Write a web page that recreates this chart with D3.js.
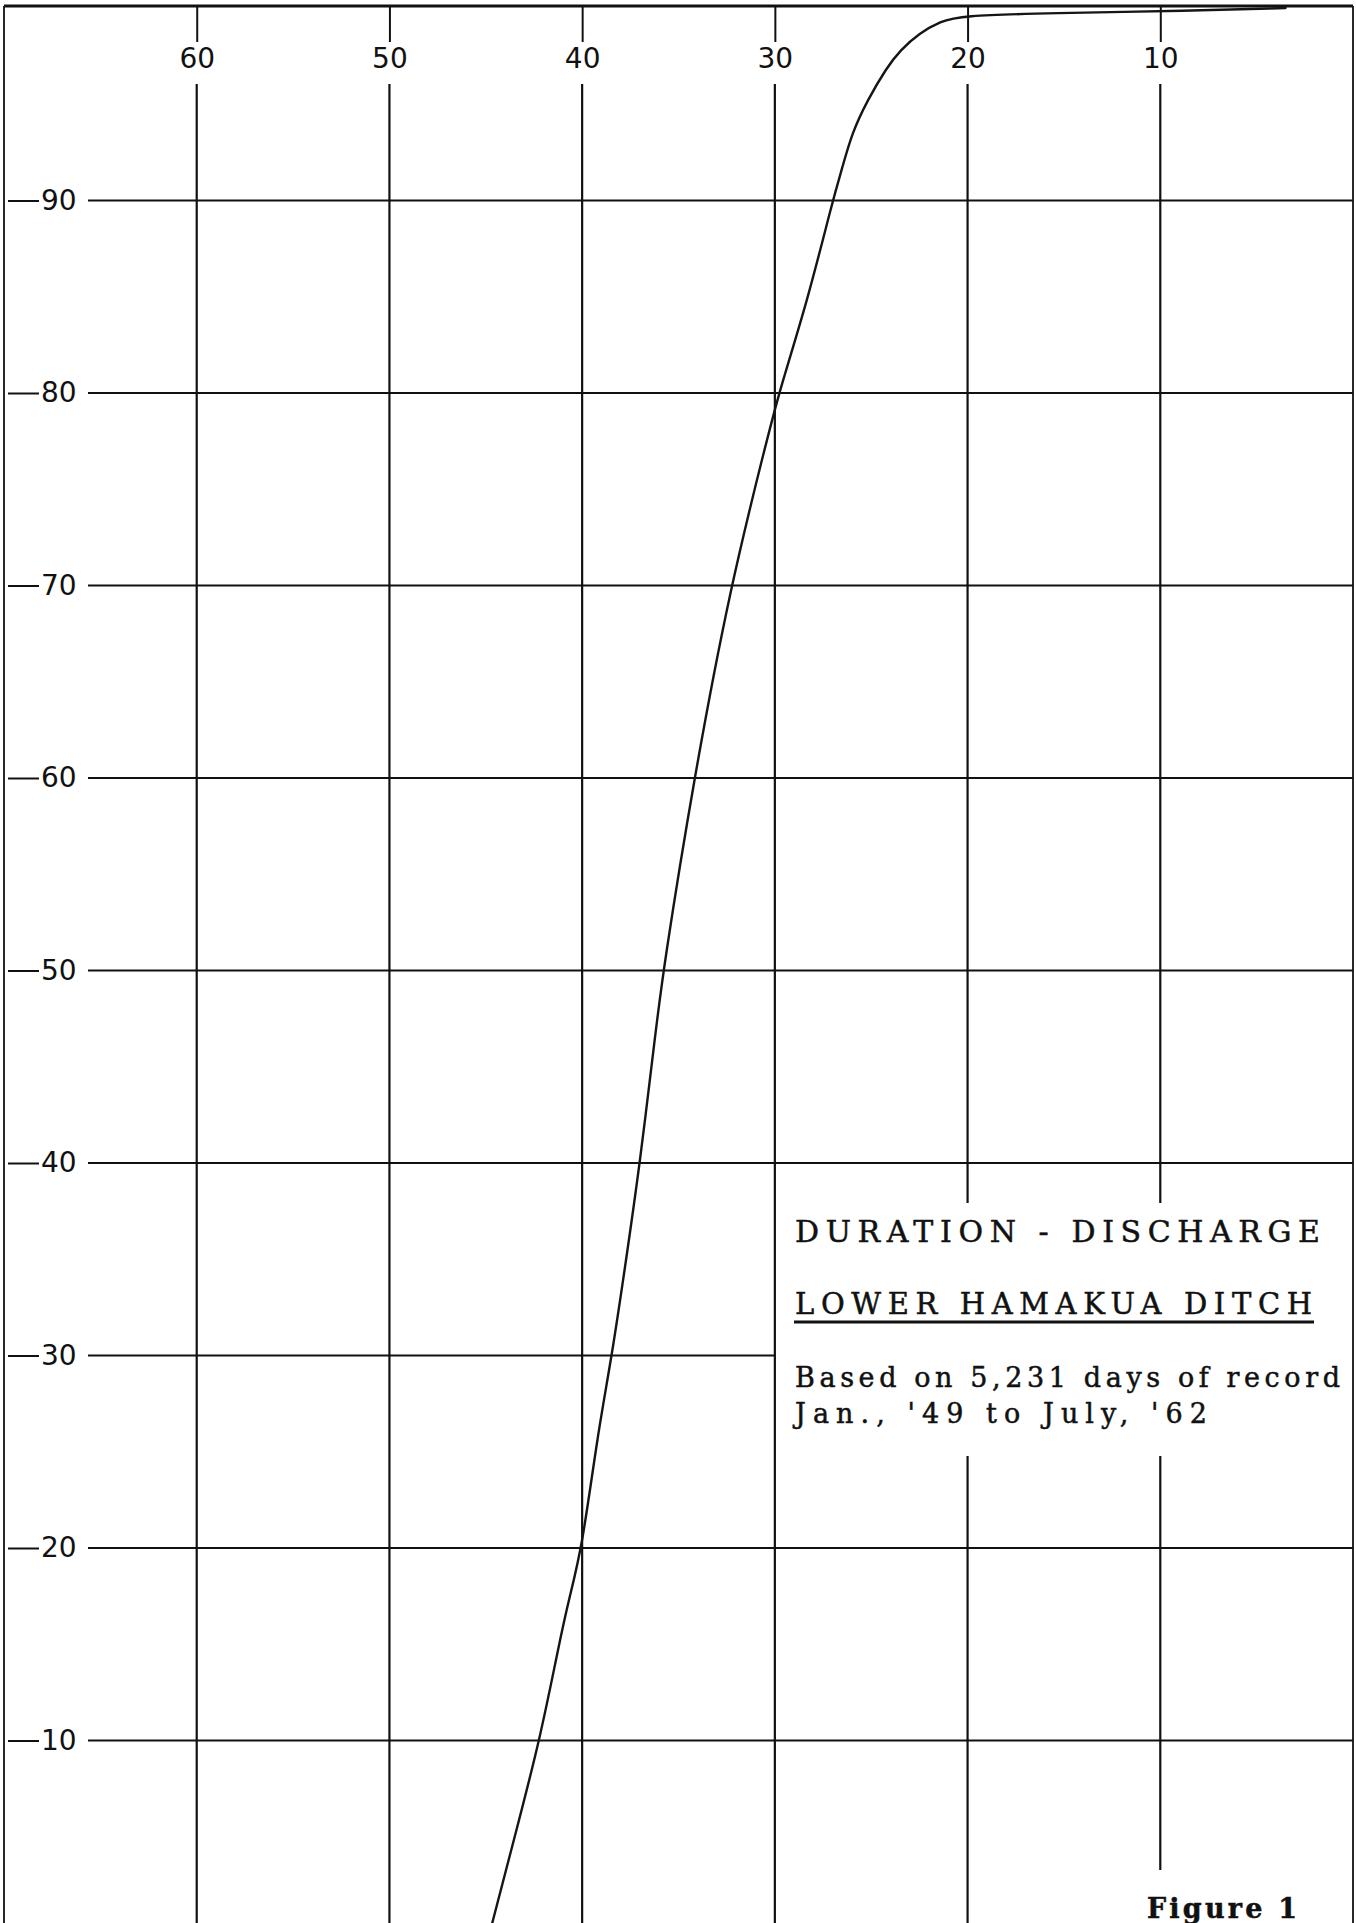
<!DOCTYPE html>
<html>
<head>
<meta charset="utf-8">
<script src="https://cdn.jsdelivr.net/npm/d3@7"></script>
<style>
html, body { margin: 0; padding: 0; background: #fff; }
svg { display: block; }
.tick text { font-family: "DejaVu Sans", sans-serif; font-size: 28px; fill: #111; }
.tick line { stroke: #111; stroke-width: 2; }
.grid { stroke: #111; stroke-width: 2.2; fill: none; }
.note { font-family: "DejaVu Serif", serif; fill: #111; stroke: #111; stroke-width: 0.5; }
</style>
</head>
<body>
<svg id="chart"></svg>
<script>
// tick labels
const xTicks = [60, 50, 40, 30, 20, 10];
const yTicks = [90, 80, 70, 60, 50, 40, 30, 20, 10];

// duration curve (discharge vs percent of time)
const discharge = [44.8, 43.5, 42.2, 41.2, 40.7, 40.0, 39.2, 38.45, 37.7, 37.0, 36.2, 35.8, 34.2, 32.3, 30.5, 29.8, 28.3, 27.0, 26.5, 26.0, 25.2, 24.2, 23.5, 22.5, 21.4, 20.4, 15.7, 8.5, 3.5];
const percentTime = [0, 5, 10, 15, 17.3, 20, 25.9, 30, 35.1, 40, 46.7, 50, 60, 70, 77.2, 80, 84.8, 90, 91.7, 93.5, 95.2, 96.9, 97.8, 98.7, 99.3, 99.6, 99.74, 99.85, 100];

// text block
const title = "DURATION - DISCHARGE";
const subtitle = "LOWER HAMAKUA DITCH";
const noteLines = ["Based on 5,231 days of record", "Jan., '49 to July, '62"];
const figureLabel = "Figure 1";

var width = 1356,
    height = 1923;

var svg = d3.select("#chart")
    .attr("width", width)
    .attr("height", height);

svg.append("rect")
    .attr("width", width)
    .attr("height", height)
    .attr("fill", "#fff");

// scales: x runs backwards, 70 at left edge, 0 at right edge
var x = d3.scaleLinear().domain([70, 0]).range([4, 1353]);
var y = d3.scaleLinear().domain([0, 100]).range([1933, 8]);

// frame
svg.append("line").attr("class", "grid")
    .attr("x1", x(70)).attr("x2", x(70)).attr("y1", 6).attr("y2", height)
    .style("stroke-width", 1.8);
svg.append("line").attr("class", "grid")
    .attr("x1", x(0)).attr("x2", x(0)).attr("y1", 6).attr("y2", height)
    .style("stroke-width", 1.8);
svg.append("line").attr("class", "grid")
    .attr("x1", x(70)).attr("x2", x(0)).attr("y1", 6).attr("y2", 6)
    .style("stroke-width", 3);

// top labels with the short tick above them
var xAxis = svg.append("g")
    .attr("transform", "translate(0,42)")
    .call(d3.axisTop(x).tickValues(xTicks).tickSize(35).tickFormat(d3.format("d")));
xAxis.select(".domain").remove();
xAxis.selectAll(".tick text")
    .attr("y", 26)
    .attr("dy", null);

// left labels with the short tick before them
var yAxis = svg.append("g")
    .attr("transform", "translate(8,0)")
    .call(d3.axisRight(y).tickValues(yTicks).tickSize(31).tickPadding(2).tickFormat(d3.format("d")));
yAxis.select(".domain").remove();

// vertical grid, broken where the text block sits
var boxTop = 1203, boxBottom = 1456;
xTicks.forEach(function(v) {
    var segs = v <= 20
        ? [[84, boxTop], [boxBottom, v === 10 ? 1870 : height]]
        : [[84, height]];
    segs.forEach(function(s) {
        svg.append("line").attr("class", "grid")
            .attr("x1", x(v)).attr("x2", x(v))
            .attr("y1", s[0]).attr("y2", s[1]);
    });
});

// horizontal grid
yTicks.forEach(function(v) {
    svg.append("line").attr("class", "grid")
        .attr("x1", 88)
        .attr("x2", v === 30 ? x(30) : x(0))
        .attr("y1", y(v)).attr("y2", y(v));
});

// the curve
var pts = discharge.map(function(d, i) {
    return { q: d, p: percentTime[i] };
});
var valueline = d3.line()
    .x(function(d) { return x(d.q); })
    .y(function(d) { return y(d.p); })
    .curve(d3.curveBasis);

svg.append("path")
    .datum(pts)
    .attr("d", valueline)
    .attr("fill", "none")
    .attr("stroke", "#151515")
    .attr("stroke-width", 2.4)
    .attr("stroke-linecap", "round");

// text block
svg.append("text").attr("class", "note")
    .attr("x", 795).attr("y", 1242)
    .attr("font-size", 30)
    .attr("textLength", 525).attr("lengthAdjust", "spacing")
    .text(title);

svg.append("text").attr("class", "note")
    .attr("x", 795).attr("y", 1314)
    .attr("font-size", 29)
    .attr("textLength", 517).attr("lengthAdjust", "spacing")
    .text(subtitle);
svg.append("line")
    .attr("x1", 794).attr("x2", 1314)
    .attr("y1", 1322).attr("y2", 1322)
    .attr("stroke", "#111").attr("stroke-width", 3);

var noteLen = [545, 412];
noteLines.forEach(function(t, i) {
    svg.append("text").attr("class", "note")
        .attr("x", 795).attr("y", 1387 + i * 36)
        .attr("font-size", 27)
        .attr("textLength", noteLen[i]).attr("lengthAdjust", "spacing")
        .text(t);
});

svg.append("text").attr("class", "note")
    .attr("x", 1147).attr("y", 1918)
    .attr("font-size", 27)
    .attr("font-weight", "bold")
    .attr("textLength", 150).attr("lengthAdjust", "spacing")
    .text(figureLabel);
</script>
</body>
</html>
